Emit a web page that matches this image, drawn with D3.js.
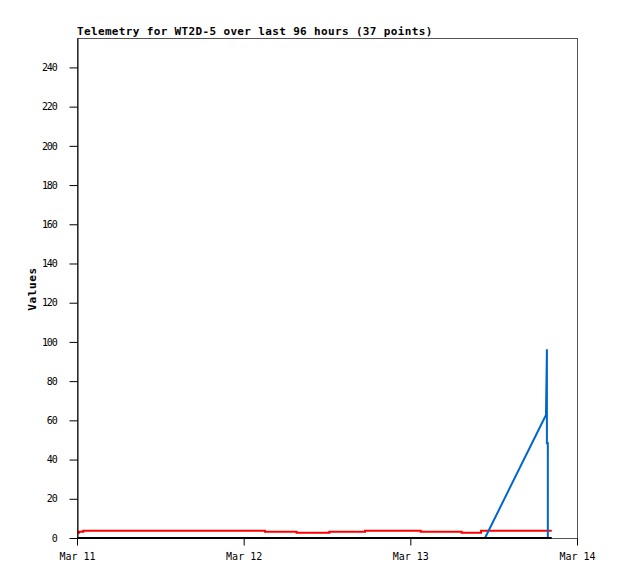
<!DOCTYPE html>
<html>
<head>
<meta charset="utf-8">
<script src="https://cdn.jsdelivr.net/npm/d3@7/dist/d3.min.js"></script>
<style>
  html, body { margin: 0; padding: 0; background: #fff; }
  svg { display: block; }
</style>
</head>
<body>
<svg id="chart" width="618" height="579"></svg>
<script>
// ---- data ----
const titleText = "Telemetry for WT2D-5 over last 96 hours (37 points)";
const yAxisLabel = "Values";
const xDomain = ["2024-03-11T00:00Z", "2024-03-14T00:00Z"];
const yDomain = [0, 255];
const yTicks = [0, 20, 40, 60, 80, 100, 120, 140, 160, 180, 200, 220, 240];
const xTicks = ["2024-03-11T00:00Z", "2024-03-12T00:00Z", "2024-03-13T00:00Z", "2024-03-14T00:00Z"];

// red series (step changes)
const redTimes = ["2024-03-11T00:02Z", "2024-03-11T00:17Z", "2024-03-11T00:54Z", "2024-03-12T03:04Z",
  "2024-03-12T07:38Z", "2024-03-12T12:20Z", "2024-03-12T17:28Z", "2024-03-13T01:30Z",
  "2024-03-13T07:24Z", "2024-03-13T10:11Z", "2024-03-13T20:22Z"];
const redValues = [2.65, 3.15, 3.65, 3.15, 2.65, 3.15, 3.65, 3.15, 2.65, 3.65, 3.65];

// blue series
const blueTimes = ["2024-03-13T10:45Z", "2024-03-13T19:32Z", "2024-03-13T19:40Z", "2024-03-13T19:40Z",
  "2024-03-13T19:48Z", "2024-03-13T19:48Z"];
const blueValues = [0, 62.7, 96.3, 48.3, 48.3, 0];

// black series (zero)
const blackTimes = ["2024-03-11T00:00Z", "2024-03-13T20:22Z"];
const blackValues = [0, 0];

// ---- layout ----
const svg = d3.select("#chart");
const margin = { left: 77, top: 38, right: 41, bottom: 41 };
const W = 618, H = 579;
const iw = W - margin.left - margin.right;   // 500
const ih = H - margin.top - margin.bottom;   // 500

const x = d3.scaleUtc().domain(xDomain.map(d => new Date(d))).range([margin.left, margin.left + iw]);
const y = d3.scaleLinear().domain(yDomain).range([margin.top + ih, margin.top]);

const monoFont = "'DejaVu Sans Mono', 'Liberation Mono', monospace";

// frame
svg.append("rect")
  .attr("x", margin.left + 0.5).attr("y", margin.top + 0.5)
  .attr("width", iw).attr("height", ih)
  .attr("fill", "none").attr("stroke", "#555").attr("stroke-width", 1);

// series
const zip = (ts, vs) => ts.map((t, i) => ({ t: new Date(t), v: vs[i] }));

svg.append("path")
  .datum(zip(redTimes, redValues))
  .attr("fill", "none").attr("stroke", "#ff0000").attr("stroke-width", 2)
  .attr("d", d3.line().curve(d3.curveStepAfter).x(d => x(d.t)).y(d => y(d.v)));

svg.append("path")
  .datum(zip(blueTimes, blueValues))
  .attr("fill", "none").attr("stroke", "#0066cc").attr("stroke-width", 2)
  .attr("d", d3.line().x(d => x(d.t)).y(d => y(d.v)));

svg.append("path")
  .datum(zip(blackTimes, blackValues))
  .attr("fill", "none").attr("stroke", "#000").attr("stroke-width", 2)
  .attr("d", d3.line().x(d => x(d.t)).y(d => y(d.v)));

// y axis
const yAxis = svg.append("g")
  .attr("transform", `translate(${margin.left + 0.5},0)`)
  .call(d3.axisLeft(y).tickValues(yTicks).tickSize(8).tickPadding(13).tickSizeOuter(0));
yAxis.select(".domain").attr("stroke", "#000");
yAxis.selectAll(".tick line").attr("stroke", "#000");
yAxis.selectAll(".tick text")
  .attr("font-family", monoFont).attr("font-size", "10px").attr("fill", "#000")
  .attr("letter-spacing", "-1.2px");

// x axis
const xAxis = svg.append("g")
  .attr("transform", `translate(0,${margin.top + ih + 0.5})`)
  .call(d3.axisBottom(x).tickValues(xTicks.map(d => new Date(d)))
    .tickFormat(d3.utcFormat("%b %d")).tickSize(7).tickPadding(7).tickSizeOuter(0));
xAxis.select(".domain").remove();
xAxis.selectAll(".tick line").attr("stroke", "#000");
xAxis.selectAll(".tick text")
  .attr("font-family", monoFont).attr("font-size", "10px").attr("fill", "#000");

// title
svg.append("text")
  .attr("x", margin.left).attr("y", 35)
  .attr("font-family", monoFont).attr("font-size", "11px").attr("font-weight", "bold")
  .attr("letter-spacing", "0.35px").attr("fill", "#000")
  .text(titleText);

// y label
svg.append("text")
  .attr("transform", `translate(36,${margin.top + ih / 2 + 1}) rotate(-90)`)
  .attr("text-anchor", "middle")
  .attr("font-family", monoFont).attr("font-size", "11px").attr("font-weight", "bold")
  .attr("letter-spacing", "0.6px").attr("fill", "#000")
  .text(yAxisLabel);
</script>
</body>
</html>
